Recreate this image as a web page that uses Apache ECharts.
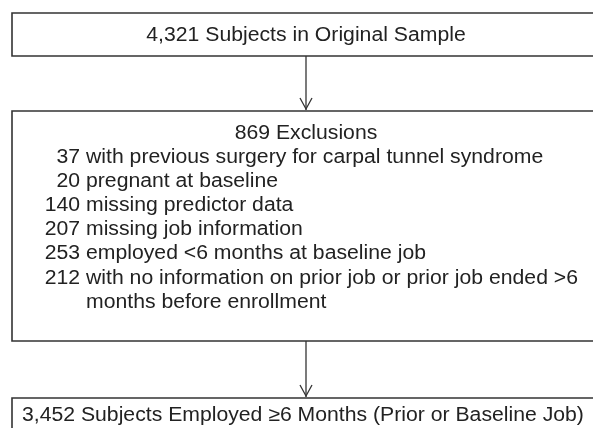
<!DOCTYPE html>
<html>
<head>
<meta charset="utf-8">
<script src="https://cdn.jsdelivr.net/npm/echarts@6/dist/echarts.min.js"></script>
<style>
  html, body { margin: 0; padding: 0; background: #fff; }
  #chart { width: 593px; height: 428px; }
</style>
</head>
<body>
<div id="chart"></div>
<script>
  // flowchart content
  var topLabel = '4,321 Subjects in Original Sample';
  var exclTitle = '869 Exclusions';
  var exclCounts = ['37', '20', '140', '207', '253', '212'];
  var exclReasons = [
    'with previous surgery for carpal tunnel syndrome',
    'pregnant at baseline',
    'missing predictor data',
    'missing job information',
    'employed <6 months at baseline job',
    'with no information on prior job or prior job ended >6'
  ];
  var exclCont = 'months before enrollment';
  var bottomLabel = '3,452 Subjects Employed \u22656 Months (Prior or Baseline Job)';

  var chart = echarts.init(document.getElementById('chart'));

  var font = '20px "Liberation Sans", Arial, sans-serif';
  var stretch = 1.06; // the source figure is a bit wide
  var lineColor = '#333';
  var textColor = '#222';
  var boxLeft = 12, boxRight = 602;
  var midX = 306;
  var numRight = 80, reasonX = 86;
  var lineGap = 24.2;

  function box(y1, y2) {
    return {
      type: 'rect',
      shape: { x: boxLeft, y: y1, width: boxRight - boxLeft, height: y2 - y1 },
      style: { fill: '#fff', stroke: lineColor, lineWidth: 1.6 }
    };
  }

  function arrow(y1, y2) {
    return [
      { type: 'line', shape: { x1: midX, y1: y1, x2: midX, y2: y2 },
        style: { stroke: lineColor, lineWidth: 1.3 } },
      { type: 'polyline', shape: { points: [[midX - 6, y2 - 12], [midX, y2 - 1], [midX + 6, y2 - 12]] },
        style: { stroke: lineColor, lineWidth: 1.3, fill: null } }
    ];
  }

  function txt(x, y, s, align) {
    return {
      type: 'text', x: x, y: y, scaleX: stretch,
      style: { text: s, font: font, fill: textColor, align: align || 'left', verticalAlign: 'middle' }
    };
  }

  var els = [];
  els.push(box(13, 56));
  els.push(box(111, 341));
  els.push(box(398, 450));
  els = els.concat(arrow(56, 110));
  els = els.concat(arrow(341, 397));

  els.push(txt(midX, 35, topLabel, 'center'));
  els.push(txt(midX, 133, exclTitle, 'center'));
  exclCounts.forEach(function (c, i) {
    var y = 157 + i * lineGap;
    els.push(txt(numRight, y, c, 'right'));
    els.push(txt(reasonX, y, exclReasons[i], 'left'));
  });
  els.push(txt(reasonX, 157 + exclCounts.length * lineGap, exclCont, 'left'));
  els.push(txt(22, 415, bottomLabel, 'left'));

  chart.setOption({
    backgroundColor: '#fff',
    animation: false,
    graphic: { elements: els }
  });
</script>
</body>
</html>
